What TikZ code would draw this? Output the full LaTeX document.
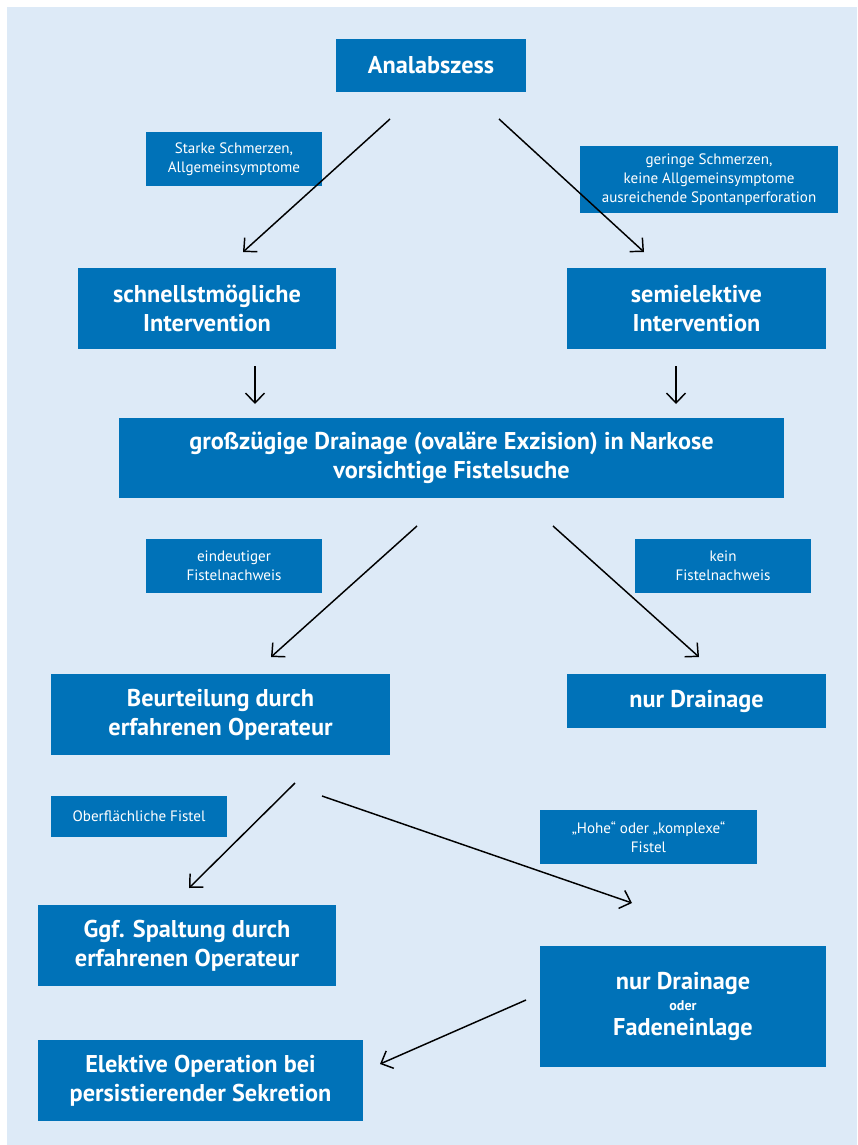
\documentclass[tikz,border=0pt]{standalone}
\usepackage{fontspec}
\setmainfont{PT Sans}
\usetikzlibrary{arrows.meta}
\definecolor{boxblue}{HTML}{0072B8}
\definecolor{bgblue}{HTML}{DDEAF7}
\tikzset{
  box/.style={fill=boxblue, text=white, inner sep=0pt, align=center,
    font=\fontsize{18.2}{21.75}\selectfont\bfseries},
  lbl/.style={fill=boxblue, text=white, inner sep=0pt, align=center,
    font=\fontsize{11.3}{14}\selectfont},
  arr/.style={line width=1.1pt, -{Straight Barb[length=2.6mm,width=5mm,line width=1.1pt]}}
}
\begin{document}
\begin{tikzpicture}[x=0.75pt,y=-0.75pt]
\useasboundingbox (0,0) rectangle (857,1145);
\fill[bgblue] (7,7) rectangle (857,1145);

\node[box, minimum width=142.5pt, minimum height=39.75pt] (ana) at (431,65.5) {Analabszess};
\node[lbl, minimum width=132pt, minimum height=40.5pt] (lab1) at (234,159) {Starke Schmerzen,\\Allgemeinsymptome};
\node[lbl, minimum width=193.5pt, minimum height=50.25pt] (lab2) at (709,179.5) {geringe Schmerzen,\\keine Allgemeinsymptome\\ausreichende Spontanperforation};
\node[box, minimum width=193.5pt, minimum height=60.75pt] (schnell) at (207,308.5) {schnellstmögliche\\Intervention};
\node[box, minimum width=194.25pt, minimum height=60.75pt] (semi) at (696.5,308.5) {semielektive\\Intervention};
\node[box, minimum width=498.75pt, minimum height=60pt] (gross) at (451.5,458) {großzügige Drainage (ovaläre Exzision) in Narkose\\vorsichtige Fistelsuche};
\node[lbl, minimum width=132pt, minimum height=40.5pt] (eind) at (234,566) {eindeutiger\\Fistelnachweis};
\node[lbl, minimum width=132pt, minimum height=40.5pt] (kein) at (723,566) {kein\\Fistelnachweis};
\node[box, minimum width=254.25pt, minimum height=60.75pt] (beurt) at (220.5,714.5) {Beurteilung durch\\erfahrenen Operateur};
\node[box, minimum width=194.25pt, minimum height=40.5pt] (nurdr) at (696.5,701) {nur Drainage};
\node[lbl, minimum width=132pt, minimum height=30.75pt] (ober) at (139,816.5) {Oberflächliche Fistel};
\node[lbl, minimum width=162.75pt, minimum height=40.5pt] (hohe) at (648.5,837) {„Hohe“ oder „komplexe“\\Fistel};
\node[box, minimum width=223.5pt, minimum height=60.75pt] (ggf) at (187,945.5) {Ggf. Spaltung durch\\erfahrenen Operateur};
\node[box, minimum width=214.5pt, minimum height=90.75pt] (fad) at (683,1006.5) {nur Drainage\\[-6pt]{\fontsize{10.5}{14}\selectfont oder}\\[-3pt]Fadeneinlage};
\node[box, minimum width=243.75pt, minimum height=60.75pt] (elek) at (200.5,1080.5) {Elektive Operation bei\\persistierender Sekretion};

\coordinate (a1s) at (390,119); \coordinate (a1e) at (243,252);
\coordinate (a2s) at (499,119); \coordinate (a2e) at (644,252);
\coordinate (a3s) at (255,366); \coordinate (a3e) at (255,404);
\coordinate (a4s) at (676,366); \coordinate (a4e) at (676,404);
\coordinate (a5s) at (417,526); \coordinate (a5e) at (271,657);
\coordinate (a6s) at (553,526); \coordinate (a6e) at (699,657);
\coordinate (a7s) at (295,783); \coordinate (a7e) at (189,888);
\coordinate (a8s) at (322,796); \coordinate (a8e) at (632,903);
\coordinate (a9s) at (526,1000); \coordinate (a9e) at (380,1064);

\draw[arr] (a1s) -- (a1e);
\draw[arr] (a2s) -- (a2e);
\draw[arr] (a3s) -- (a3e);
\draw[arr] (a4s) -- (a4e);
\draw[arr] (a5s) -- (a5e);
\draw[arr] (a6s) -- (a6e);
\draw[arr] (a7s) -- (a7e);
\draw[arr] (a8s) -- (a8e);
\draw[arr] (a9s) -- (a9e);
\end{tikzpicture}
\end{document}
